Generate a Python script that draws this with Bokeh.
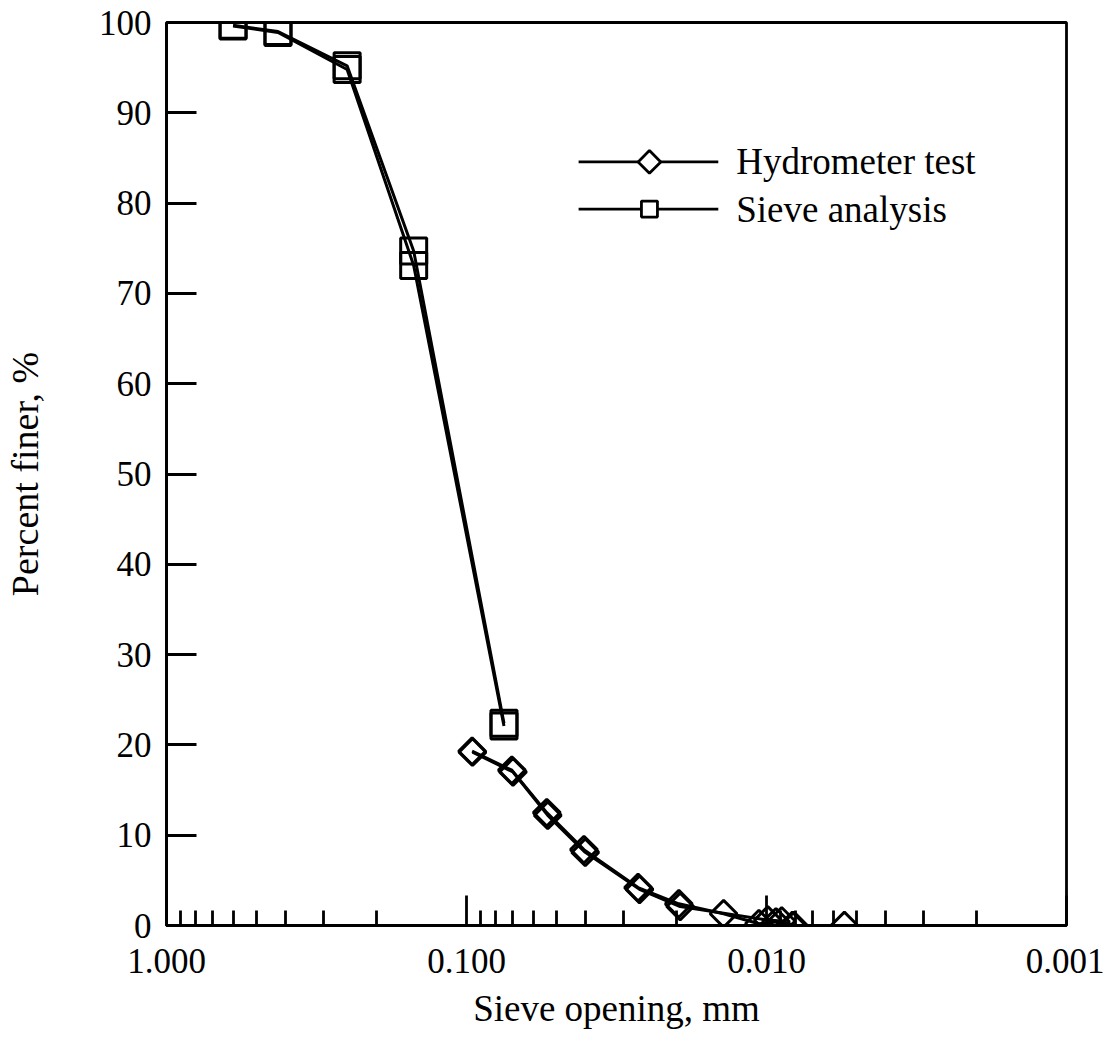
from bokeh.plotting import figure
from bokeh.models import Range1d, LinearScale, FixedTicker, PrintfTickFormatter
from bokeh.core.properties import value
from bokeh.embed import file_html
from bokeh.resources import INLINE
import math

# ---- data ----
sieve_size = [0.6, 0.425, 0.25, 0.15, 0.075]          # mm
sieve_test1 = [99.7, 99.0, 95.2, 74.7, 22.4]          # % finer
sieve_test2 = [99.6, 98.9, 94.8, 73.1, 22.1]

hydro1_size = [0.0958, 0.0706, 0.0540, 0.0406, 0.0268, 0.0196, 0.0139, 0.0106, 0.0093, 0.0081, 0.0055]
hydro1_pct = [19.3, 17.2, 12.5, 8.4, 4.2, 2.4, 1.3, 0.2, 0.4, 0.0, 0.0]
hydro2_size = [0.0955, 0.0700, 0.0536, 0.0402, 0.0265, 0.0194, 0.0099, 0.0089, 0.0082]
hydro2_pct = [19.2, 17.0, 12.2, 8.1, 4.0, 2.1, 0.6, 0.5, 0.0]

x_major = [1.0, 0.1, 0.01, 0.001]
y_major = list(range(0, 101, 10))
legend_labels = ["Hydrometer test", "Sieve analysis"]

FONT = "Liberation Serif"

p = figure(width=1104, height=1031, x_axis_type="log",
           x_range=Range1d(1.0, 0.001), y_range=Range1d(0, 100),
           output_backend="svg", toolbar_location=None,
           min_border_left=164, min_border_right=38, min_border_top=22, min_border_bottom=104)
p.background_fill_color = "white"
p.border_fill_color = "white"
p.grid.visible = False
p.outline_line_color = "black"
p.outline_line_width = 2.8

# x axis
xa = p.xaxis[0]
xa.ticker = FixedTicker(ticks=x_major,
                        minor_ticks=[m * 10.0 ** e for e in (-3, -2, -1) for m in range(2, 10)])
xa.formatter = PrintfTickFormatter(format="%.3f")
xa.axis_label = "Sieve opening, mm"
# y axis
ya = p.yaxis[0]
ya.ticker = FixedTicker(ticks=y_major)
ya.axis_label = "Percent finer, %"
ya.minor_tick_line_color = None

for ax in (xa, ya):
    ax.axis_line_width = 2.8
    ax.axis_line_color = "black"
    ax.major_tick_line_width = 2.8
    ax.minor_tick_line_width = 2.8
    ax.major_tick_in = 30
    ax.major_tick_out = 0
    ax.minor_tick_in = 15
    ax.minor_tick_out = 0
    ax.major_label_text_font = FONT
    ax.major_label_text_font_size = "35px"
    ax.major_label_text_color = "black"
    ax.axis_label_text_font = FONT
    ax.axis_label_text_font_style = "normal"
    ax.axis_label_text_color = "black"

xa.axis_label_text_font_size = "37px"
ya.axis_label_text_font_size = "38px"
xa.major_label_standoff = 23
xa.axis_label_standoff = 12
ya.major_label_standoff = 15
ya.axis_label_standoff = 50

# data series
for sz, pc in ((sieve_size, sieve_test1), (sieve_size, sieve_test2)):
    p.line(sz, pc, line_color="black", line_width=3)
    p.scatter(sz, pc, marker="square", size=26, fill_color=None,
              line_color="black", line_width=3)

for sz, pc in ((hydro1_size, hydro1_pct), (hydro2_size, hydro2_pct)):
    p.line(sz, pc, line_color="black", line_width=3)
    p.scatter(sz, pc, marker="square", angle=math.pi / 4, size=19, fill_color=None,
              line_color="black", line_width=3)

# legend drawn in frame-fraction coordinates
p.extra_x_ranges = {"leg": Range1d(0, 1)}
p.extra_x_scales = {"leg": LinearScale()}
p.extra_y_ranges = {"leg": Range1d(0, 1)}
leg_y = [0.8456, 0.7934]
for yy in leg_y:
    p.line([0.4579, 0.6131], [yy, yy], line_color="black", line_width=2.8,
           x_range_name="leg", y_range_name="leg")
p.scatter([0.5366], [leg_y[0]], marker="square", angle=math.pi / 4, size=16,
          fill_color="white", line_color="black", line_width=2.8,
          x_range_name="leg", y_range_name="leg")
p.scatter([0.5366], [leg_y[1]], marker="square", size=16,
          fill_color="white", line_color="black", line_width=2.8,
          x_range_name="leg", y_range_name="leg")
p.text([0.6330, 0.6330], leg_y, text=legend_labels, text_font=value(FONT),
       text_font_size="37px", text_baseline="middle", text_align="left",
       text_color="black", x_range_name="leg", y_range_name="leg")

open("out.html", "w").write(file_html(p, INLINE))
